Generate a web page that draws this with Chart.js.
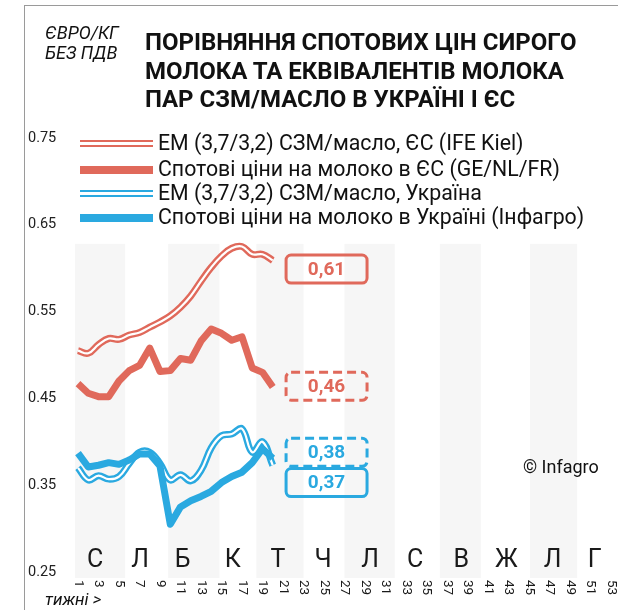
<!DOCTYPE html>
<html><head><meta charset="utf-8">
<script src="https://cdn.jsdelivr.net/npm/chart.js@4.4.1/dist/chart.umd.min.js"></script>
<style>
html,body{margin:0;padding:0;background:#fff;}
#wrap{position:relative;width:618px;height:610px;overflow:hidden;font-family:Roboto,"Noto Sans",sans-serif;color:#111;}
#frame{position:absolute;left:24px;top:5px;width:600px;height:610px;border-left:1px solid #9a9a9a;border-top:1px solid #9a9a9a;}
canvas{position:absolute;left:0;top:0;}
.unit{position:absolute;left:45px;font-style:italic;font-size:18px;line-height:20px;color:#111;}
#title{position:absolute;left:145px;top:28px;font-weight:700;font-size:24px;line-height:28.5px;color:#111;white-space:nowrap;}
.lg{position:absolute;left:80px;height:24px;width:540px;}
.lg .s{position:absolute;left:0;width:73px;}
.lg .t{position:absolute;left:78px;top:0;font-size:21.3px;line-height:22px;white-space:nowrap;color:#111;}
#copy{position:absolute;left:523px;top:456px;font-size:18px;color:#111;}
#weeks{position:absolute;left:45px;top:589px;font-style:italic;font-size:17px;color:#111;}
</style></head>
<body><div id="wrap">
<div id="frame"></div>
<canvas id="c" width="618" height="610"></canvas>
<div class="unit" style="top:23px">ЄВРО/КГ</div>
<div class="unit" style="top:43px">БЕЗ ПДВ</div>
<div id="title">ПОРІВНЯННЯ СПОТОВИХ ЦІН СИРОГО<br>МОЛОКА ТА ЕКВІВАЛЕНТІВ МОЛОКА<br>ПАР СЗМ/МАСЛО В УКРАЇНІ І ЄС</div>
<div id="legend"></div>
<div id="copy">© Infagro</div>
<div id="weeks">тижні &gt;</div>
</div>
<script>
// ---- data ----
const weeks = [1,2,3,4,5,6,7,8,9,10,11,12,13,14,15,16,17,18,19,20,21,22,23,24,25,26,27,28,29,30,31,32,33,34,35,36,37,38,39,40,41,42,43,44,45,46,47,48,49,50,51,52,53];
const euIfe  = [0.505,0.502,0.512,0.519,0.518,0.523,0.526,0.532,0.538,0.545,0.555,0.568,0.585,0.601,0.614,0.623,0.625,0.616,0.616,0.609];
const euSpot = [0.467,0.456,0.452,0.452,0.470,0.482,0.488,0.508,0.481,0.482,0.496,0.494,0.516,0.530,0.525,0.517,0.521,0.485,0.480,0.463];
const uaEm   = [0.370,0.356,0.361,0.357,0.360,0.375,0.388,0.388,0.375,0.356,0.362,0.355,0.367,0.393,0.407,0.409,0.415,0.388,0.400,0.373];
const uaSpot = [0.387,0.371,0.373,0.376,0.374,0.379,0.386,0.386,0.372,0.305,0.325,0.332,0.337,0.343,0.353,0.360,0.365,0.376,0.392,0.381];
const seriesNames = ["ЕМ (3,7/3,2) СЗМ/масло, ЄС (IFE Kiel)","Спотові ціни на молоко в ЄС (GE/NL/FR)","ЕМ (3,7/3,2) СЗМ/масло, Україна","Спотові ціни на молоко в Україні (Інфагро)"];
const yTicks = [0.25,0.35,0.45,0.55,0.65,0.75];
const monthLetters = ["С","Л","Б","К","Т","Ч","Л","С","В","Ж","Л","Г"];
const monthCenters = [2.66,7.05,11.2,16.1,20.5,24.9,29.5,33.9,38.4,42.8,47.3,51.4];
const bandStarts = [0.7,9.8,18.4,27.0,36.3,45.1];
const bandEnds   = [5.6,14.8,23.0,31.9,40.3,49.7];
const lastValues = ["0,61","0,46","0,38","0,37"];

const RED = "#e0695b", BLUE = "#2aa9e0";

// legend (HTML)
const lg = document.getElementById('legend');
const lgTops = [132,158,182,206];
const lgKinds = [["double",RED],["thick",RED],["double",BLUE],["thick",BLUE]];
seriesNames.forEach((n,i)=>{
  const d = document.createElement('div'); d.className='lg'; d.style.top = lgTops[i]+'px';
  const s = document.createElement('div'); s.className='s';
  const [k,c] = lgKinds[i];
  if (k==='double'){ s.style.top='8px'; s.style.height='3px'; s.style.borderTop='2.5px solid '+c; s.style.borderBottom='2.5px solid '+c; }
  else { s.style.top='8px'; s.style.height='8px'; s.style.background=c; }
  const t = document.createElement('div'); t.className='t'; t.textContent = n;
  d.appendChild(s); d.appendChild(t); lg.appendChild(d);
});

const X = (chart, w) => chart.scales.x.getPixelForValue(w - 1);
const Y = (chart, v) => chart.scales.y.getPixelForValue(v);

const decor = {
  id:'decor',
  beforeDatasetsDraw(chart){
    const ctx = chart.ctx, a = chart.chartArea;
    ctx.save();
    ctx.fillStyle = '#f6f6f6';
    const top = Y(chart, 0.628);
    bandStarts.forEach((s,i)=>{
      const x0 = X(chart,s), x1 = X(chart,bandEnds[i]);
      ctx.fillRect(x0, top, x1-x0, a.bottom + 6 - top);
    });
    ctx.fillStyle = '#1a1a1a';
    ctx.font = '25px Roboto';
    ctx.textAlign = 'center'; ctx.textBaseline = 'middle';
    monthLetters.forEach((m,i)=> ctx.fillText(m, X(chart, monthCenters[i]), a.bottom - 11));
    ctx.font = '13.5px Roboto';
    ctx.textAlign = 'left'; ctx.textBaseline = 'middle';
    weeks.forEach(w=>{
      if (w % 2 === 0) return;
      ctx.save();
      ctx.translate(X(chart,w), a.bottom + 8);
      ctx.rotate(Math.PI/2);
      ctx.fillText(String(w), 0, 0);
      ctx.restore();
    });
    ctx.restore();
  },
  afterDatasetsDraw(chart){
    const ctx = chart.ctx;
    const boxes = [
      {v:0.599, c:RED, dash:false},
      {v:0.464, c:RED, dash:true},
      {v:0.388, c:BLUE, dash:true},
      {v:0.353, c:BLUE, dash:false}
    ];
    ctx.save();
    boxes.forEach((b,i)=>{
      const x0 = X(chart, 21.3), x1 = X(chart, 29.2);
      const yc = Y(chart, b.v);
      const h = 28;
      ctx.lineWidth = 3;
      ctx.strokeStyle = b.c;
      ctx.setLineDash(b.dash ? [9,5] : []);
      ctx.beginPath();
      ctx.roundRect(x0, yc - h/2, x1 - x0, h, 5);
      ctx.stroke();
      ctx.setLineDash([]);
      ctx.fillStyle = b.c;
      ctx.font = 'bold 19px Roboto';
      ctx.textAlign = 'center'; ctx.textBaseline = 'middle';
      ctx.fillText(lastValues[i], (x0+x1)/2, yc + 1);
    });
    ctx.restore();
  }
};

const common = {pointRadius:0, fill:false, spanGaps:false, borderJoinStyle:'round', borderCapStyle:'butt'};
new Chart(document.getElementById('c'), {
  type:'line',
  data:{
    labels: weeks,
    datasets:[
      Object.assign({label:seriesNames[3], data:uaSpot, borderColor:BLUE, borderWidth:7, tension:0, order:1}, common),
      Object.assign({label:seriesNames[1], data:euSpot, borderColor:RED, borderWidth:7, tension:0, order:2}, common),
      Object.assign({label:'w1', data:euIfe, borderColor:'#ffffff', borderWidth:2.2, tension:0.4, order:3}, common),
      Object.assign({label:seriesNames[0], data:euIfe, borderColor:RED, borderWidth:7, tension:0.4, order:4}, common),
      Object.assign({label:'w2', data:uaEm, borderColor:'#ffffff', borderWidth:2.2, tension:0.4, order:5}, common),
      Object.assign({label:seriesNames[2], data:uaEm, borderColor:BLUE, borderWidth:7, tension:0.4, order:6}, common)
    ]
  },
  options:{
    responsive:false, animation:false, devicePixelRatio:1,
    layout:{padding:{left:28, right:7, top:138, bottom:0}},
    plugins:{legend:{display:false}, tooltip:{enabled:false}, title:{display:false}},
    scales:{
      x:{
        grid:{display:false}, border:{display:false},
        ticks:{display:false},
        afterFit(s){ s.height = 38; }
      },
      y:{
        min:0.25, max:0.75,
        grid:{display:false}, border:{display:false},
        ticks:{stepSize:0.1, crossAlign:'far', padding:0, color:'#222', font:{family:'Roboto', size:14.5},
          callback:(v)=> yTicks.some(t=>Math.abs(t-v)<1e-6) ? v.toFixed(2) : ''},
        afterFit(s){ s.width = 50; }
      }
    }
  },
  plugins:[decor]
});
</script>
</body></html>
